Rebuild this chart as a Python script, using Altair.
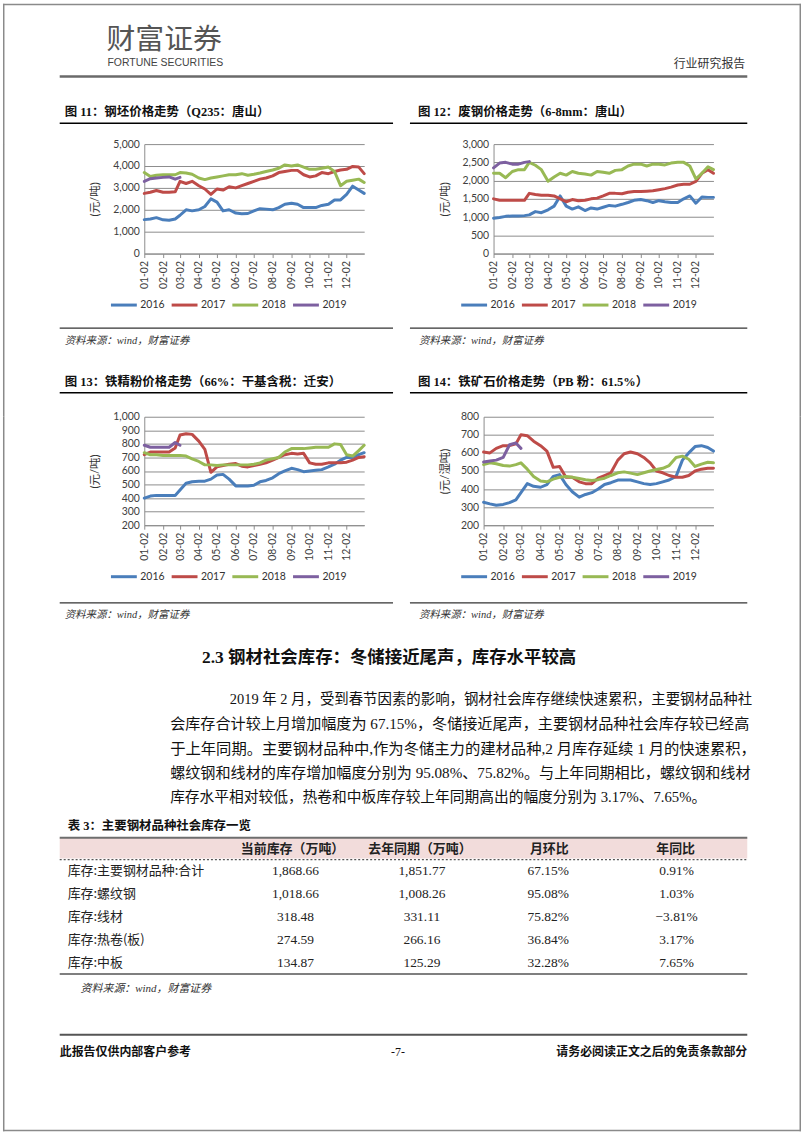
import altair as alt
import pandas as pd

CJK = "Noto Sans CJK SC"
SERIF = "Liberation Serif, Noto Sans CJK SC"
AXF = "Lato, Noto Sans CJK SC"
GRID = "#8c8c8c"
BORDER = "#8a8a8a"
W = 802

# ---------------- data ----------------
DATE_LABELS = [
    "01-02", "01-12", "01-22", "02-02", "02-12", "02-22", "03-02", "03-12", "03-22",
    "04-02", "04-12", "04-22", "05-02", "05-12", "05-22", "06-02", "06-12", "06-22",
    "07-02", "07-12", "07-22", "08-02", "08-12", "08-22", "09-02", "09-12", "09-22",
    "10-02", "10-12", "10-22", "11-02", "11-12", "11-22", "12-02", "12-12", "12-22", "12-31",
]
YEARS = ["2016", "2017", "2018", "2019"]
COLORS = ["#4a7ebb", "#be4b48", "#98b954", "#7d60a0"]

BILLET_2016 = [1550, 1580, 1640, 1540, 1520, 1580, 1750, 2000, 1950, 2000, 2150, 2500, 2350, 1950, 2000,
               1850, 1820, 1830, 1950, 2050, 2030, 2000, 2100, 2250, 2300, 2250, 2100, 2100, 2100, 2200,
               2250, 2450, 2450, 2700, 3080, 2900, 2750]
BILLET_2017 = [2750, 2800, 2880, 2800, 2800, 2820, 3300, 3200, 3300, 3100, 2950, 2700, 2950, 2900, 3050,
               3000, 3100, 3200, 3300, 3400, 3450, 3550, 3700, 3750, 3800, 3800, 3600, 3500, 3550, 3700,
               3650, 3750, 3820, 3850, 3980, 3950, 3650]
BILLET_2018 = [3700, 3520, 3580, 3600, 3600, 3600, 3700, 3680, 3620, 3450, 3380, 3450, 3500, 3550, 3600,
               3600, 3650, 3580, 3620, 3680, 3750, 3820, 3900, 4050, 4000, 4050, 3950, 3850, 3850, 3900,
               3950, 3750, 3100, 3300, 3350, 3400, 3250]
BILLET_2019 = [3300, 3420, 3450, 3480, 3500, 3400, 3480]

SCRAP_2016 = [970, 990, 1020, 1030, 1030, 1040, 1060, 1150, 1120, 1200, 1300, 1580, 1300, 1220, 1280,
              1180, 1250, 1220, 1270, 1320, 1300, 1350, 1400, 1460, 1480, 1450, 1400, 1450, 1420, 1400,
              1400, 1500, 1580, 1380, 1550, 1540, 1540]
SCRAP_2017 = [1500, 1460, 1460, 1460, 1460, 1460, 1650, 1620, 1600, 1600, 1580, 1500, 1420, 1480, 1450,
              1460, 1500, 1520, 1580, 1650, 1650, 1640, 1680, 1700, 1700, 1710, 1720, 1750, 1780, 1820,
              1880, 1900, 1900, 1980, 2200, 2300, 2200]
SCRAP_2018 = [2200, 2200, 2080, 2250, 2300, 2300, 2500, 2420, 2300, 1980, 2100, 2200, 2150, 2250, 2200,
              2180, 2150, 2250, 2230, 2200, 2280, 2300, 2400, 2450, 2450, 2400, 2450, 2450, 2430, 2480,
              2500, 2500, 2400, 2050, 2200, 2380, 2300]
SCRAP_2019 = [2350, 2480, 2500, 2450, 2450, 2500, 2520]

CONC_2016 = [400, 415, 420, 420, 420, 420, 460, 510, 520, 525, 525, 540, 570, 575, 540,
             490, 490, 490, 495, 520, 530, 550, 580, 600, 620, 610, 595, 600, 605, 610,
             630, 650, 680, 700, 700, 720, 735]
CONC_2017 = [720, 740, 740, 740, 740, 770, 865, 875, 870, 820, 760, 590, 630, 640, 650,
             655, 635, 630, 640, 650, 660, 680, 700, 720, 730, 725, 730, 660, 650, 650,
             660, 660, 660, 665, 680, 700, 705]
CONC_2018 = [735, 720, 720, 715, 715, 715, 715, 710, 690, 670, 645, 645, 640, 645, 645,
             645, 645, 645, 650, 660, 680, 690, 700, 740, 765, 765, 765, 770, 775, 775,
             775, 800, 795, 720, 710, 750, 790]
CONC_2019 = [790, 775, 775, 775, 775, 810, 790]

ORE_2016 = [327, 318, 310, 315, 325, 340, 380, 430, 415, 410, 425, 470, 480, 425, 385,
            355, 370, 380, 400, 425, 435, 450, 450, 450, 440, 430, 425, 430, 440, 450,
            470, 560, 600, 635, 640, 630, 610]
ORE_2017 = [605, 600, 625, 640, 640, 650, 700, 695, 665, 640, 610, 520, 525, 465, 465,
            440, 430, 430, 460, 475, 490, 560, 595, 605, 595, 575, 545, 500, 490, 475,
            465, 465, 475, 500, 510, 515, 515]
ORE_2018 = [535, 545, 540, 530, 527, 535, 545, 510, 470, 445, 440, 455, 465, 470, 465,
            458, 452, 447, 452, 460, 475, 490, 495, 488, 480, 490, 500, 508, 515, 530,
            575, 582, 565, 525, 538, 548, 545]
ORE_2019 = [550, 555, 560, 575, 645, 655, 625]

TABLE_ROWS = ["库存:主要钢材品种:合计", "库存:螺纹钢", "库存:线材", "库存:热卷(板)", "库存:中板"]
TABLE_CUR = [1868.66, 1018.66, 318.48, 274.59, 134.87]
TABLE_PREV = [1851.77, 1008.26, 331.11, 266.16, 125.29]
TABLE_MOM = [67.15, 95.08, 75.82, 36.84, 32.28]
TABLE_YOY = [0.91, 1.03, -3.81, 3.17, 7.65]
TABLE_HEAD = ["当前库存（万吨）", "去年同期（万吨）", "月环比", "年同比"]

PARA = [
    "2019 年 2 月，受到春节因素的影响，钢材社会库存继续快速累积，主要钢材品种社",
    "会库存合计较上月增加幅度为 67.15%，冬储接近尾声，主要钢材品种社会库存较已经高",
    "于上年同期。主要钢材品种中,作为冬储主力的建材品种,2 月库存延续 1 月的快速累积，",
    "螺纹钢和线材的库存增加幅度分别为 95.08%、75.82%。与上年同期相比，螺纹钢和线材",
    "库存水平相对较低，热卷和中板库存较上年同期高出的幅度分别为 3.17%、7.65%。",
]
SOURCE = "资料来源：wind，财富证券"

ONE = alt.Data(values=[{"k": 1}])


def series_frame(s16, s17, s18, s19):
    rows = []
    for yr, vals in zip(YEARS, [s16, s17, s18, s19]):
        for lab, v in zip(DATE_LABELS, vals):
            rows.append({"date": f"2001-{lab}T00:00:00", "year": yr, "value": v})
    return pd.DataFrame(rows)


def line_chart(df, ymin, ymax, step, ytitle, width, height, lx, ly, tpad):
    x_axis = alt.Axis(
        values=[alt.DateTime(year=2001, month=m, date=2) for m in range(1, 13)],
        format="%m-%d", labelAngle=-90, labelFont=AXF, labelFontSize=10.5,
        labelColor="#404040", labelPadding=3, tickSize=4, tickColor=GRID,
        domainColor=GRID, grid=False, title=None, labelOverlap=False, labelFlush=False,
    )
    y_axis = alt.Axis(
        values=list(range(ymin, ymax + 1, step)), format=",.0f", title=ytitle,
        titleFont=AXF, titleFontSize=11.5, titleFontWeight="normal", titleColor="#333333",
        titlePadding=tpad, labelFont=AXF, labelFontSize=10.5, labelColor="#404040",
        labelPadding=5, grid=True, gridColor=GRID, ticks=False, domainColor=GRID,
    )
    legend = alt.Legend(
        orient="none", legendX=lx, legendY=ly, direction="horizontal", title=None,
        symbolType="stroke", symbolSize=676, symbolStrokeWidth=3, labelFont=AXF,
        labelFontSize=10.5, labelColor="#333333", columnPadding=0, labelOffset=2, padding=0,
    )
    return alt.Chart(df).mark_line(strokeWidth=3, strokeJoin="round", strokeCap="round").encode(
        x=alt.X("date:T", axis=x_axis,
                scale=alt.Scale(domain=[alt.DateTime(year=2001, month=1, date=2),
                                        alt.DateTime(year=2001, month=12, date=31)])),
        y=alt.Y("value:Q", axis=y_axis, scale=alt.Scale(domain=[ymin, ymax], nice=False, zero=False)),
        color=alt.Color("year:N", scale=alt.Scale(domain=YEARS, range=COLORS), legend=legend),
    ).properties(width=width, height=height)


def txt(s, x, y, size, font=CJK, weight="normal", align="left", color="#111111", style="normal"):
    return alt.Chart(ONE).mark_text(
        text=s, align=align, baseline="middle", font=font, fontSize=size,
        fontWeight=weight, fontStyle=style, color=color,
    ).encode(x=alt.value(x), y=alt.value(y))


def hrule(x1, x2, y, width=1.0, color="#000000", dash=None):
    kw = dict(color=color, strokeWidth=width)
    if dash:
        kw["strokeDash"] = dash
    return alt.Chart(ONE).mark_rule(**kw).encode(x=alt.value(x1), x2=alt.value(x2), y=alt.value(y))


def vrule(x, y1, y2, width=1.0, color=BORDER):
    return alt.Chart(ONE).mark_rule(color=color, strokeWidth=width).encode(
        x=alt.value(x), y=alt.value(y1), y2=alt.value(y2))


def box(x1, x2, y1, y2, fill):
    return alt.Chart(ONE).mark_rect(fill=fill).encode(
        x=alt.value(x1), x2=alt.value(x2), y=alt.value(y1), y2=alt.value(y2))


def spacer(w, h):
    return alt.Chart(ONE).mark_point(opacity=0).encode(
        x=alt.value(0), y=alt.value(0)).properties(width=w, height=h)


def sides(h):
    return [vrule(0.75, 0, h, 1.5), vrule(W - 0.75, 0, h, 1.5)]


# Nested chart rows take no height in the flush layout, so each text row
# spans down to the start of the next text row.

# ---------------- row 1: header + titles (page y 0-141) ----------------
H1 = 141
row1 = alt.layer(
    hrule(0, W, 0.75, 1.5, BORDER), *sides(H1),
    txt("财富证券", 104, 36, 29, color="#555555"),
    txt("FORTUNE SECURITIES", 105, 60, 10.5, font="Liberation Sans Narrow, Liberation Sans", color="#444444"),
    txt("行业研究报告", 746, 61, 12, align="right", color="#333333"),
    hrule(57, 748, 73, 2.5, "#6a6a6a"),
    txt("图 11：钢坯价格走势（Q235：唐山）", 62, 109, 12.5, font=SERIF, weight="bold"),
    hrule(57, 392, 120, 1.5),
    txt("图 12：废钢价格走势（6-8mm：唐山）", 417, 109, 12.5, font=SERIF, weight="bold"),
    hrule(409, 748, 120, 1.5),
).properties(width=W, height=H1)

# ---------------- row 2: charts 11 & 12 (page y 141-251) ----------------
H2 = 110
c11 = line_chart(series_frame(BILLET_2016, BILLET_2017, BILLET_2018, BILLET_2019),
                 0, 5000, 1000, "(元/吨)", 221, H2, -35, 147, 12)
c12 = line_chart(series_frame(SCRAP_2016, SCRAP_2017, SCRAP_2018, SCRAP_2019),
                 0, 3000, 500, "(元/吨)", 221, H2, -34, 147, 12)
row2 = alt.hconcat(
    spacer(142, H2), c11, spacer(130, H2), c12, spacer(88, H2),
    spacing=0, bounds="flush",
).resolve_scale(color="independent")

# ---------------- row 3: sources + titles (page y 141-415) ----------------
O3 = 141
H3 = 415 - O3
row3 = alt.layer(
    *sides(H3),
    hrule(57, 392, 326 - O3, 1.2, "#333333"),
    hrule(409, 748, 326 - O3, 1.2, "#333333"),
    txt(SOURCE, 62, 339 - O3, 10.5, font=SERIF, style="italic", color="#333333"),
    txt(SOURCE, 418, 339 - O3, 10.5, font=SERIF, style="italic", color="#333333"),
    txt("图 13：铁精粉价格走势（66%：干基含税：迁安）", 62, 380 - O3, 12.5, font=SERIF, weight="bold"),
    hrule(57, 392, 391 - O3, 1.5),
    txt("图 14：铁矿石价格走势（PB 粉：61.5%）", 417, 380 - O3, 12.5, font=SERIF, weight="bold"),
    hrule(409, 748, 391 - O3, 1.5),
).properties(width=W, height=H3)

# ---------------- row 4: charts 13 & 14 (page y 415-524) ----------------
H4 = 109
c13 = line_chart(series_frame(CONC_2016, CONC_2017, CONC_2018, CONC_2019),
                 200, 1000, 100, "(元/吨)", 221, H4, -35, 146, 12)
c14 = line_chart(series_frame(ORE_2016, ORE_2017, ORE_2018, ORE_2019),
                 200, 800, 100, "(元/湿吨)", 231, H4, -24, 146, 10)
row4 = alt.hconcat(
    spacer(142, H4), c13, spacer(120, H4), c14, spacer(88, H4),
    spacing=0, bounds="flush",
).resolve_scale(color="independent")

# ---------------- row 5: text + table + footer (page y 415-1133) ----------------
O5 = 415
H5 = 1133 - O5
table_df = pd.DataFrame({"label": TABLE_ROWS, "cur": TABLE_CUR, "prev": TABLE_PREV,
                         "mom": TABLE_MOM, "yoy": TABLE_YOY})
row_y = alt.Y("label:N", sort=TABLE_ROWS, axis=None,
              scale=alt.Scale(type="point", range=[872 - O5, 964 - O5], padding=0))
tbase = alt.Chart(table_df).transform_calculate(
    cur_s="format(datum.cur, ',.2f')",
    prev_s="format(datum.prev, ',.2f')",
    mom_s="format(datum.mom, '.2f') + '%'",
    yoy_s="format(datum.yoy, '.2f') + '%'",
)
table_layers = [
    tbase.mark_text(align="left", baseline="middle", font=CJK, fontSize=13, color="#222222").encode(
        y=row_y, x=alt.value(65), text="label:N"),
]
for field, cx in [("cur_s", 294), ("prev_s", 421), ("mom_s", 548), ("yoy_s", 677)]:
    table_layers.append(
        tbase.mark_text(align="center", baseline="middle", font="Liberation Serif", fontSize=13.5,
                        color="#222222").encode(y=row_y, x=alt.value(cx), text=f"{field}:N"))

head_layers = [txt(h, cx, 849 - O5, 13, font=CJK, weight="bold", align="center", color="#222222")
               for h, cx in zip(TABLE_HEAD, [291, 419, 549, 676])]
para_layers = [txt(line, 228 if i == 0 else 168, y - O5, sz, font=SERIF, color="#111111")
               for i, (line, y, sz) in enumerate(zip(PARA, [700, 724, 749, 773, 798],
                                                     [14.5, 15.2, 15.4, 15.2, 14.8]))]

row5 = alt.layer(
    *sides(H5),
    hrule(0, W, H5 - 0.75, 1.5, BORDER),
    hrule(57, 392, 602 - O5, 1.2, "#333333"),
    hrule(409, 748, 602 - O5, 1.2, "#333333"),
    txt(SOURCE, 62, 614 - O5, 10.5, font=SERIF, style="italic", color="#333333"),
    txt(SOURCE, 418, 614 - O5, 10.5, font=SERIF, style="italic", color="#333333"),
    txt("2.3 钢材社会库存：冬储接近尾声，库存水平较高", 200, 657 - O5, 17.5, font=SERIF, weight="bold"),
    *para_layers,
    txt("表 3：主要钢材品种社会库存一览", 65, 826 - O5, 12.5, font=SERIF, weight="bold"),
    box(57, 748, 838 - O5, 859 - O5, "#f2dcdb"),
    hrule(57, 748, 838 - O5, 2, "#6e6e6e"),
    hrule(57, 748, 860 - O5, 1.2, "#555555", [2, 2]),
    *head_layers,
    *table_layers,
    hrule(57, 748, 975 - O5, 1.5, "#555555"),
    txt(SOURCE, 78, 990 - O5, 11, font=SERIF, style="italic", color="#333333"),
    hrule(57, 748, 1036 - O5, 2, "#555555"),
    txt("此报告仅供内部客户参考", 57, 1053 - O5, 12, font=CJK, weight="bold"),
    txt("-7-", 397, 1053 - O5, 12, font="Liberation Serif", align="center"),
    txt("请务必阅读正文之后的免责条款部分", 748, 1053 - O5, 12, font=CJK, weight="bold", align="right"),
).properties(width=W, height=H5)

chart = alt.vconcat(
    row1, row2, row3, row4, row5,
    spacing=0, bounds="flush", padding=0, background="white",
).resolve_scale(color="independent").configure_view(strokeWidth=0)

chart.save("out.html", embed_options={"renderer": "svg", "actions": False})
